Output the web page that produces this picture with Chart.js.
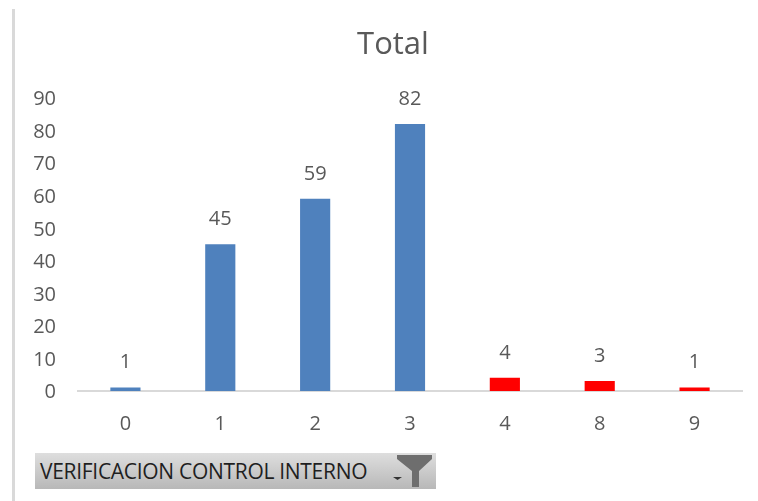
<!DOCTYPE html>
<html>
<head>
<meta charset="utf-8">
<script src="https://cdn.jsdelivr.net/npm/chart.js@4"></script>
<style>
html,body{margin:0;padding:0;background:#fff;overflow:hidden}
#wrap{position:relative;width:758px;height:501px}
canvas{position:absolute;left:0;top:0}
#rule{position:absolute;left:12px;top:9px;width:3px;height:492px;background:#d9d9d9}
#filter{position:absolute;left:35px;top:453px;width:401px;height:36px;background:linear-gradient(#dedede,#b8b8b8)}
#filter span{position:absolute;left:5px;top:7px;font:21px/22px "Open Sans",sans-serif;color:#1f1f1f;white-space:nowrap;letter-spacing:-0.3px}
#filter svg{position:absolute;left:355px;top:0}
</style>
</head>
<body>
<div id="wrap">
<canvas id="c" width="758" height="501"></canvas>
<div id="rule"></div>
<div id="filter"><span id="filterLabel"></span>
<svg width="46" height="36"><path d="M7 2H42V6L29 18V34H22V18L7 6Z" fill="#6e6e6e"/><path d="M3 24H12L7.5 27Z" fill="#333"/></svg>
</div>
</div>
<script>
const chartTitle = "Total";
const filterText = "VERIFICACION CONTROL INTERNO";
const categories = ["0","1","2","3","4","8","9"];
const seriesValues = [1,45,59,82,4,3,1];
const barColors = ["#4f81bd","#4f81bd","#4f81bd","#4f81bd","#ff0000","#ff0000","#ff0000"];
const textColor = "#595959";
const fontFamily = '"Open Sans", sans-serif';

document.getElementById("filterLabel").textContent = filterText;

const valueLabels = {
  id: "valueLabels",
  afterLayout(chart){
    if (chart.titleBlock){ chart.titleBlock.left = 28; chart.titleBlock.right = 758; }
  },
  afterDatasetsDraw(chart){
    const ctx = chart.ctx;
    ctx.save();
    ctx.font = "20px " + fontFamily;
    ctx.fillStyle = textColor;
    ctx.textAlign = "center";
    ctx.textBaseline = "middle";
    chart.getDatasetMeta(0).data.forEach((bar,i)=>{
      ctx.fillText(String(seriesValues[i]), bar.x, bar.y - 25);
    });
    ctx.restore();
  }
};

new Chart(document.getElementById("c"),{
  type:"bar",
  data:{labels:categories,datasets:[{label:chartTitle,data:seriesValues,backgroundColor:barColors,barThickness:29.5}]},
  plugins:[valueLabels],
  options:{
    responsive:false,animation:false,
    layout:{padding:{left:0,right:16,top:0,bottom:0}},
    plugins:{
      legend:{display:false},tooltip:{enabled:false},
      title:{display:true,text:chartTitle,color:textColor,font:{family:fontFamily,size:31,weight:"normal"},padding:{top:27,bottom:34}}
    },
    scales:{
      x:{
        grid:{display:false},
        border:{color:"#d9d9d9",width:2},
        ticks:{color:textColor,font:{family:fontFamily,size:20},padding:13,maxRotation:0},
        afterFit(s){s.height=110;}
      },
      y:{
        min:0,max:90,
        grid:{display:false},
        border:{display:false},
        ticks:{stepSize:10,color:textColor,font:{family:fontFamily,size:20},padding:14,labelOffset:1.5},
        afterFit(s){s.width=78;}
      }
    }
  }
});
</script>
</body>
</html>
